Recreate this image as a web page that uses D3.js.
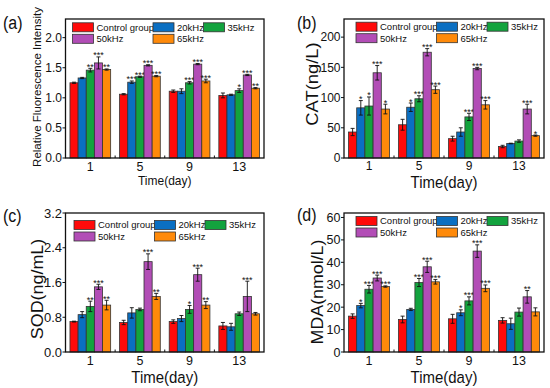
<!DOCTYPE html>
<html>
<head>
<meta charset="utf-8">
<script src="https://cdn.jsdelivr.net/npm/d3@7"></script>
<style>
  body { margin: 0; background: #fff; }
  svg { font-family: 'Liberation Sans', Arial, sans-serif; }
</style>
</head>
<body>
<svg width="550" height="388"></svg>
<script>
const days = ['1', '5', '9', '13']
const groups = ['Control group', '20kHz', '35kHz', '50kHz', '65kHz']
const colours = ['#ff0a0a', '#0a6fc2', '#13a33e', '#b24db6', '#ff8a0a']

// (a) relative fluorescence intensity, one row per group, one value per day
const rfiMean = [
  [1.25, 1.06, 1.11, 1.04],
  [1.33, 1.26, 1.11, 1.05],
  [1.46, 1.35, 1.25, 1.12],
  [1.58, 1.54, 1.56, 1.38],
  [1.47, 1.36, 1.28, 1.16]
]
const rfiErr = [
  [0.01, 0.01, 0.02, 0.04],
  [0.01, 0.02, 0.04, 0.01],
  [0.03, 0.01, 0.02, 0.03],
  [0.10, 0.01, 0.01, 0.01],
  [0.01, 0.01, 0.03, 0.01]
]
const rfiStars = [
  ['', '', '', ''],
  ['', '***', '', ''],
  ['**', '***', '***', '*'],
  ['***', '***', '***', '***'],
  ['**', '***', '***', '**']
]

// (b) CAT
const catMean = [
  [43, 55, 32, 19],
  [83, 84, 43, 24],
  [86, 98, 68, 28],
  [141, 175, 148, 81],
  [81, 113, 88, 37]
]
const catErr = [
  [6, 9, 4, 2],
  [12, 7, 7, 0.5],
  [15, 5, 6, 2],
  [12, 6, 2, 8],
  [8, 6, 7, 1]
]
const catStars = [
  ['', '', '', ''],
  ['*', '*', '', ''],
  ['*', '***', '***', ''],
  ['***', '***', '***', '***'],
  ['*', '***', '***', '*']
]

// (c) SOD
const sodMean = [
  [0.70, 0.68, 0.70, 0.60],
  [0.86, 0.90, 0.77, 0.58],
  [1.05, 0.98, 0.98, 0.88],
  [1.50, 2.08, 1.78, 1.28],
  [1.08, 1.28, 1.08, 0.88]
]
const sodErr = [
  [0.01, 0.05, 0.04, 0.08],
  [0.07, 0.12, 0.07, 0.08],
  [0.12, 0.03, 0.09, 0.04],
  [0.06, 0.18, 0.15, 0.35],
  [0.11, 0.07, 0.08, 0.03]
]
const sodStars = [
  ['', '', '', ''],
  ['', '', '', ''],
  ['**', '', '*', ''],
  ['***', '***', '***', '***'],
  ['**', '**', '**', '']
]

// (d) MDA
const mdaMean = [
  [16, 14.5, 14.8, 14.1],
  [20.7, 19, 17.5, 12.6],
  [28, 31, 22.8, 17.8],
  [33, 38, 45, 24.6],
  [29.2, 31.3, 28.4, 17.9]
]
const mdaErr = [
  [1, 1.5, 2, 1.2],
  [1, 0.5, 1.3, 2.5],
  [1.7, 1.8, 1.8, 1.8],
  [1.3, 2.5, 2.8, 2.8],
  [0.3, 1, 1.5, 1.8]
]
const mdaStars = [
  ['', '', '', ''],
  ['*', '', '*', ''],
  ['***', '***', '***', ''],
  ['***', '***', '***', '**'],
  ['***', '***', '***', '']
]

const svg = d3.select('svg')

const panels = [
  { tag: '(a)', tagX: 3, tagY: 23, left: 65.5, width: 198.5, top: 19, max: 2.31, ticks: [0, 0.5, 1, 1.5, 2], fmt: '.1f',
    mean: rfiMean, err: rfiErr, stars: rfiStars, title: 'Relative Fluorescence Intensity',
    titleX: 37, titleY: 87, titleSize: 11.5, titleK: 1, xTitleSize: 12, xTitleDy: 22.5, tickSize: 12, xTickSize: 12.5, legX: 7, legY: 8.3 },
  { tag: '(b)', tagX: 297, tagY: 23, left: 344, width: 200, top: 19, max: 230, ticks: [0, 50, 100, 150, 200], fmt: 'd',
    mean: catMean, err: catErr, stars: catStars, title: 'CAT(ng/L)',
    titleX: 312, titleY: 84, titleSize: 17, titleK: 1.08, xTitleSize: 15, xTitleDy: 24, tickSize: 12, xTickSize: 12, legX: 12, legY: 7.7 },
  { tag: '(c)', tagX: 3, tagY: 215.5, left: 65.5, width: 198.5, top: 213, max: 3.2, ticks: [0, 0.8, 1.6, 2.4, 3.2], fmt: '.1f',
    mean: sodMean, err: sodErr, stars: sodStars, title: 'SOD(ng/mL)',
    titleX: 37.5, titleY: 289, titleSize: 16, titleK: 1.12, xTitleSize: 15, xTitleDy: 25, tickSize: 13, xTickSize: 12.5, legX: 8.5, legY: 12 },
  { tag: '(d)', tagX: 297, tagY: 214.5, left: 344, width: 200, top: 213, max: 62, ticks: [0, 10, 20, 30, 40, 50, 60], fmt: 'd',
    mean: mdaMean, err: mdaErr, stars: mdaStars, title: 'MDA(nmol/L)',
    titleX: 317, titleY: 292, titleSize: 16.5, titleK: 1.08, xTitleSize: 15, xTitleDy: 25, tickSize: 12.5, xTickSize: 12.5, legX: 12, legY: 8 }
]

const plotH = 139

panels.forEach(p => {
  const plotW = p.width
  const g = svg.append('g').attr('transform', `translate(${p.left},${p.top})`)

  const x = d3.scaleBand().domain(days).range([0, plotW]).paddingInner(0.18).paddingOuter(0.09)
  const xs = d3.scaleBand().domain(d3.range(groups.length)).range([0, x.bandwidth()])
  const y = d3.scaleLinear().domain([0, p.max]).range([plotH, 0])

  // bars
  groups.forEach((grp, gi) => {
    const series = g.append('g')
    days.forEach((day, di) => {
      const v = p.mean[gi][di], e = p.err[gi][di]
      const bx = x(day) + xs(gi)
      series.append('rect')
        .attr('x', bx).attr('y', y(v))
        .attr('width', xs.bandwidth()).attr('height', plotH - y(v))
        .attr('fill', colours[gi]).attr('stroke', '#333').attr('stroke-width', 0.8)
      const cx = bx + xs.bandwidth() / 2
      series.append('line')
        .attr('x1', cx).attr('x2', cx).attr('y1', y(v - e)).attr('y2', y(v + e))
        .attr('stroke', '#111').attr('stroke-width', 0.9)
      ;[v - e, v + e].forEach(val => {
        series.append('line')
          .attr('x1', cx - 2).attr('x2', cx + 2).attr('y1', y(val)).attr('y2', y(val))
          .attr('stroke', '#111').attr('stroke-width', 0.9)
      })
      if (p.stars[gi][di]) {
        series.append('text')
          .attr('x', cx).attr('y', y(v + e) + 1.5)
          .attr('text-anchor', 'middle').attr('font-size', 9).attr('fill', '#111')
          .text(p.stars[gi][di])
      }
    })
  })

  // frame
  g.append('rect').attr('width', plotW).attr('height', plotH)
    .attr('fill', 'none').attr('stroke', '#111').attr('stroke-width', 1.3)

  // y ticks
  p.ticks.forEach(t => {
    g.append('line').attr('x1', -3).attr('x2', 0).attr('y1', y(t)).attr('y2', y(t))
      .attr('stroke', '#111').attr('stroke-width', 1)
    g.append('text').attr('x', -3.5).attr('y', y(t)).attr('dy', '0.36em')
      .attr('text-anchor', 'end').attr('font-size', p.tickSize).attr('fill', '#111')
      .text(d3.format(p.fmt)(t))
  })

  // x ticks between groups and labels
  days.forEach((day, di) => {
    if (di > 0) {
      const bx = x(day) - x.step() * x.paddingInner() / 2
      g.append('line').attr('x1', bx).attr('x2', bx).attr('y1', plotH).attr('y2', plotH - 2.5)
        .attr('stroke', '#111').attr('stroke-width', 1)
    }
    g.append('text')
      .attr('x', x(day) + x.bandwidth() / 2).attr('y', plotH + 8).attr('dy', '0.36em')
      .attr('text-anchor', 'middle').attr('font-size', p.xTickSize).attr('fill', '#111')
      .text(day)
  })

  // axis titles
  svg.append('text')
    .attr('transform', `translate(${p.left + plotW / 2},${p.top + plotH + p.xTitleDy}) scale(1,1.1)`)
    .attr('dy', '0.36em').attr('text-anchor', 'middle')
    .attr('font-size', p.xTitleSize).attr('fill', '#111')
    .text('Time(day)')
  svg.append('text')
    .attr('transform', `translate(${p.titleX},${p.titleY}) scale(1,${p.titleK}) rotate(-90)`)
    .attr('dy', '0.36em').attr('text-anchor', 'middle')
    .attr('font-size', p.titleSize).attr('fill', '#111')
    .text(p.title)

  // panel tag
  svg.append('text')
    .attr('transform', `translate(${p.tagX},${p.tagY}) scale(1,1.1)`)
    .attr('dy', '0.36em').attr('font-size', 16).attr('fill', '#111')
    .text(p.tag)

  // legend
  const cols = [0, 80.5, 131]
  const slots = [[0, 0], [1, 0], [2, 0], [0, 1], [1, 1]]
  groups.forEach((grp, gi) => {
    const lx = p.legX + cols[slots[gi][0]]
    const ly = p.legY + slots[gi][1] * 11.5
    g.append('rect').attr('x', lx).attr('y', ly - 4.5).attr('width', 21).attr('height', 9)
      .attr('fill', colours[gi]).attr('stroke', '#333').attr('stroke-width', 0.8)
    g.append('text').attr('x', lx + 24).attr('y', ly).attr('dy', '0.36em')
      .attr('font-size', 9.5).attr('fill', '#111').text(grp)
  })
})
</script>
</body>
</html>
